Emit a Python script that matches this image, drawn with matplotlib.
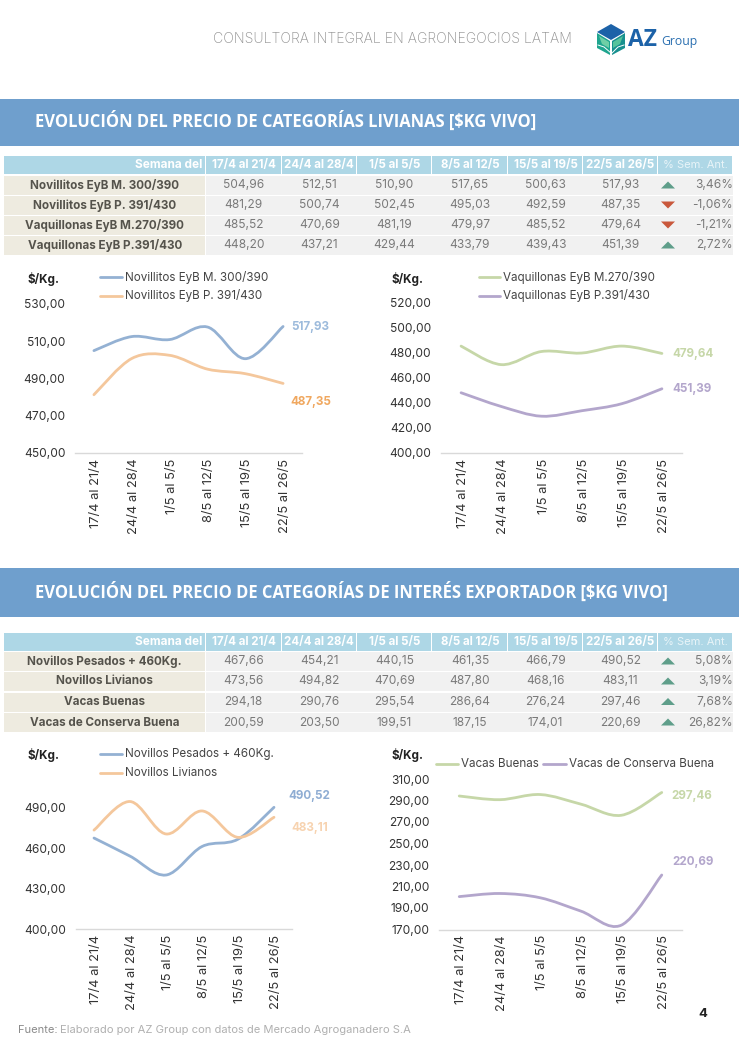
"""Informe AZ Group: precios de categorias livianas y de interes exportador."""

import matplotlib

matplotlib.use("Agg")
import matplotlib.pyplot as plt
from matplotlib.patches import PathPatch, Polygon, Rectangle
from matplotlib.path import Path
from matplotlib.transforms import ScaledTranslation

plt.rcParams["font.family"] = ["Inter", "DejaVu Sans"]

WEEKS = ["17/4 al 21/4", "24/4 al 28/4", "1/5 al 5/5", "8/5 al 12/5", "15/5 al 19/5", "22/5 al 26/5"]

NOV_M = [504.96, 512.51, 510.90, 517.65, 500.63, 517.93]
NOV_P = [481.29, 500.74, 502.45, 495.03, 492.59, 487.35]
VAQ_M = [485.52, 470.69, 481.19, 479.97, 485.52, 479.64]
VAQ_P = [448.20, 437.21, 429.44, 433.79, 439.43, 451.39]
PESADOS = [467.66, 454.21, 440.15, 461.35, 466.79, 490.52]
LIVIANOS = [473.56, 494.82, 470.69, 487.80, 468.16, 483.11]
VACAS_B = [294.18, 290.76, 295.54, 286.64, 276.24, 297.46]
VACAS_C = [200.59, 203.50, 199.51, 187.15, 174.01, 220.69]

PCT_LIV = [3.46, -1.06, -1.21, 2.72]
PCT_EXP = [5.08, 3.19, 7.68, 26.82]

NAMES_LIV = ["Novillitos EyB M. 300/390", "Novillitos EyB P. 391/430", "Vaquillonas EyB M.270/390", "Vaquillonas EyB P.391/430"]
NAMES_EXP = ["Novillos Pesados + 460Kg.", "Novillos Livianos", "Vacas Buenas", "Vacas de Conserva Buena"]

TICKS_1 = [450, 470, 490, 510, 530]
TICKS_2 = [400, 420, 440, 460, 480, 500, 520]
TICKS_3 = [400, 430, 460, 490]
TICKS_4 = [170, 190, 210, 230, 250, 270, 290, 310]

BANNER = "#6f9fcd"
HEADER = "#aed7e6"
LABEL_BG = "#eeebe0"
VALUE_BG = "#f1f1f1"
BLUE = "#94b1d3"
ORANGE = "#f4c79c"
GREEN = "#c6d7a8"
PURPLE = "#b3a6cc"
TICK_TEXT = "#333333"

W, H = 739, 1046
COL_EDGES = [4, 205.5, 281.5, 357, 432, 508, 583, 658, 733]


def fmt(value):
    return f"{value:.2f}".replace(".", ",")


def smooth_path(ys):
    """Bezier through the points, same look as a smoothed Excel line."""
    verts = [(0, ys[0])]
    codes = [Path.MOVETO]
    n = len(ys)
    for i in range(n - 1):
        y_prev = ys[max(i - 1, 0)]
        y_next = ys[min(i + 2, n - 1)]
        x_prev, x_next = max(i - 1, 0), min(i + 2, n - 1)
        verts.append((i + (i + 1 - x_prev) / 6, ys[i] + (ys[i + 1] - y_prev) / 6))
        verts.append((i + 1 - (x_next - i) / 6, ys[i + 1] - (y_next - ys[i]) / 6))
        verts.append((i + 1, ys[i + 1]))
        codes += [Path.CURVE4] * 3
    return Path(verts, codes)


def draw_table(page, top, row_tops, row_h, names, rows, pcts):
    hdr_h = 18
    cells = ["Semana del"] + WEEKS + ["% Sem. Ant."]
    for c, label in enumerate(cells):
        x0, x1 = COL_EDGES[c], COL_EDGES[c + 1]
        page.add_patch(Rectangle((x0, top), x1 - x0 - 1, hdr_h, fc=HEADER, ec="none"))
        if c == 0:
            page.text(x1 - 3, top + hdr_h / 2, label, color="white", fontsize=8.5, fontweight="bold", ha="right", va="center")
        elif c == 7:
            page.text((x0 + x1) / 2, top + hdr_h / 2, label, color="#e8f4f8", fontsize=8.0, ha="center", va="center")
        else:
            page.text((x0 + x1) / 2, top + hdr_h / 2, label, color="white", fontsize=8.3, fontweight="bold", ha="center", va="center")

    for r, y in enumerate(row_tops):
        page.add_patch(Rectangle((COL_EDGES[0], y), COL_EDGES[1] - COL_EDGES[0] - 1, row_h, fc=LABEL_BG, ec="none"))
        page.add_patch(Rectangle((COL_EDGES[1], y), COL_EDGES[-1] - COL_EDGES[1], row_h, fc=VALUE_BG, ec="none"))
        mid = y + row_h / 2
        page.text((COL_EDGES[0] + COL_EDGES[1]) / 2, mid, names[r], color="#55534c", fontsize=8.4, fontweight="bold", ha="center", va="center")
        for c, value in enumerate(rows[r]):
            page.text((COL_EDGES[c + 1] + COL_EDGES[c + 2]) / 2, mid, fmt(value), color="#7a7a7a", fontsize=8.6, ha="center", va="center")
        pct = pcts[r]
        page.text(733, mid, fmt(pct) + "%", color="#7a7a7a", fontsize=8.6, ha="right", va="center")
        if pct >= 0:
            tri = [(661, mid + 3), (675, mid + 3), (668, mid - 4)]
            colour = "#5f9e8a"
        else:
            tri = [(661, mid - 4), (675, mid - 4), (668, mid + 3)]
            colour = "#c9583c"
        page.add_patch(Polygon(tri, closed=True, fc=colour, ec="none"))


def draw_chart(left, right, bottom_px, top_px, ticks, series):
    """Axes box given in page pixels; y range runs from the first to the last tick."""
    fig = plt.gcf()
    ax = fig.add_axes([left / W, 1 - bottom_px / H, (right - left) / W, (bottom_px - top_px) / H])
    ax.patch.set_alpha(0)
    ax.set_xlim(-0.5, 5.5)
    ax.set_ylim(ticks[0], ticks[-1])
    for ys, colour in series:
        ax.add_patch(PathPatch(smooth_path(ys), fc="none", ec=colour, lw=2.0, capstyle="round", clip_on=False))
    for side in ["top", "left", "right"]:
        ax.spines[side].set_visible(False)
    ax.spines["bottom"].set_color("#d9d9d9")
    ax.spines["bottom"].set_linewidth(1.0)
    ax.set_yticks(ticks)
    ax.set_yticklabels([fmt(t) for t in ticks], fontsize=8.6, color=TICK_TEXT)
    ax.set_xticks(range(len(WEEKS)))
    ax.set_xticklabels(WEEKS, rotation=90, fontsize=9.3, color=TICK_TEXT)
    ax.tick_params(axis="both", length=0)
    ax.tick_params(axis="y", pad=7)
    ax.tick_params(axis="x", pad=4)
    # rotated labels sit a little right of the point in the original
    nudge = ScaledTranslation(1.5 / 72, 0, fig.dpi_scale_trans)
    for label in ax.get_xticklabels():
        label.set_transform(label.get_transform() + nudge)
    return ax


def legend_item(page, x0, x1, y, colour, label):
    page.plot([x0, x1], [y, y], color=colour, lw=2.0, solid_capstyle="round")
    page.text(x1 + 3, y, label, color="#444444", fontsize=8.4, va="center", ha="left")


def draw_logo(page):
    page.add_patch(Polygon([(611, 24), (625, 32), (611, 40), (597, 32)], closed=True, fc="#1c62a8", ec="none"))
    page.add_patch(Polygon([(597, 33), (610, 41), (610, 55), (597, 48)], closed=True, fc="#1fa58f", ec="none"))
    page.add_patch(Polygon([(625, 33), (612, 41), (612, 55), (625, 48)], closed=True, fc="#17908f", ec="none"))
    page.add_patch(Polygon([(599, 36), (609, 42), (609, 48), (602, 44)], closed=True, fc="#6fcfa6", ec="none"))
    page.add_patch(Polygon([(623, 36), (613, 42), (613, 48), (620, 44)], closed=True, fc="#57c39c", ec="none"))
    page.plot([598, 604, 611], [45, 47, 53], color="white", lw=0.7)
    page.plot([624, 618, 612], [45, 47, 53], color="white", lw=0.7)
    page.text(627.5, 40, "AZ", color="#1c62a8", fontsize=16.5, fontweight="bold", ha="left", va="center", family="Open Sans")
    page.text(661, 41, "Group", color="#2a6fb0", fontsize=8.8, ha="left", va="center", family="Open Sans")


fig = plt.figure(figsize=(W / 100, H / 100), dpi=100, facecolor="white")
page = fig.add_axes([0, 0, 1, 1])
page.set_xlim(0, W)
page.set_ylim(H, 0)
page.axis("off")

# header and section banners
page.text(213, 39, "CONSULTORA INTEGRAL EN AGRONEGOCIOS LATAM", color="#8f8f8f", fontsize=10.1, fontweight="light", va="center", ha="left")
draw_logo(page)
page.add_patch(Rectangle((0, 99), W, 47, fc=BANNER, ec="none"))
page.text(35, 121, "EVOLUCIÓN DEL PRECIO DE CATEGORÍAS LIVIANAS [$KG VIVO]", color="white", fontsize=11.9, fontweight="bold", family="Open Sans", va="center")
page.add_patch(Rectangle((0, 568), W, 49, fc=BANNER, ec="none"))
page.text(35, 592, "EVOLUCIÓN DEL PRECIO DE CATEGORÍAS DE INTERÉS EXPORTADOR [$KG VIVO]", color="white", fontsize=11.9, fontweight="bold", family="Open Sans", va="center")

# tables
draw_table(page, 156, [176, 196, 216, 236], 19, NAMES_LIV, [NOV_M, NOV_P, VAQ_M, VAQ_P], PCT_LIV)
draw_table(page, 633, [652, 672, 692.5, 713], 19, NAMES_EXP, [PESADOS, LIVIANOS, VACAS_B, VACAS_C], PCT_EXP)

# charts
draw_chart(75, 302, 453, 304, TICKS_1, [(NOV_M, BLUE), (NOV_P, ORANGE)])
draw_chart(441, 682, 453, 303, TICKS_2, [(VAQ_M, GREEN), (VAQ_P, PURPLE)])
draw_chart(76, 292, 929, 808, TICKS_3, [(PESADOS, BLUE), (LIVIANOS, ORANGE)])
draw_chart(439, 682, 929.5, 779, TICKS_4, [(VACAS_B, GREEN), (VACAS_C, PURPLE)])

# units, legends and end labels sit on the page layer
for x, y in [(27, 279), (392, 279), (27, 755), (392, 755)]:
    page.text(x, y, "$/Kg.", color="#222222", fontsize=8.4, fontweight="bold", va="center")

legend_item(page, 100, 122, 277, BLUE, NAMES_LIV[0])
legend_item(page, 100, 122, 296, ORANGE, NAMES_LIV[1])
legend_item(page, 479, 500, 277, GREEN, NAMES_LIV[2])
legend_item(page, 479, 500, 296, PURPLE, NAMES_LIV[3])
legend_item(page, 100, 122, 754, BLUE, NAMES_EXP[0])
legend_item(page, 100, 122, 773, ORANGE, NAMES_EXP[1])
legend_item(page, 436, 458, 764, GREEN, NAMES_EXP[2])
legend_item(page, 543, 566, 764, PURPLE, NAMES_EXP[3])

end_labels = [
    (291, 327, NOV_M[-1], "#9dbbdc"),
    (290, 402, NOV_P[-1], "#f0a860"),
    (672, 354, VAQ_M[-1], "#c6d7a8"),
    (672, 389, VAQ_P[-1], "#b3a6cc"),
    (288, 796, PESADOS[-1], "#8fadd3"),
    (291, 828, LIVIANOS[-1], "#f7d3b0"),
    (671, 796, VACAS_B[-1], "#c6d7a8"),
    (672, 862, VACAS_C[-1], "#b3a6cc"),
]
for x, y, value, colour in end_labels:
    page.text(x, y, fmt(value), color=colour, fontsize=8.4, fontweight="bold", va="center")

# footer
page.text(18, 1030, "Fuente:", color="#8a8a8a", fontsize=8.0, va="center")
page.text(60, 1030, "Elaborado por AZ Group con datos de Mercado Agroganadero S.A", color="#b0b0b0", fontsize=8.05, va="center")
page.text(703, 1014, "4", color="#222222", fontsize=9.5, fontweight="bold", ha="center", va="center")

fig.savefig("out.png", dpi=100)
plt.close(fig)
